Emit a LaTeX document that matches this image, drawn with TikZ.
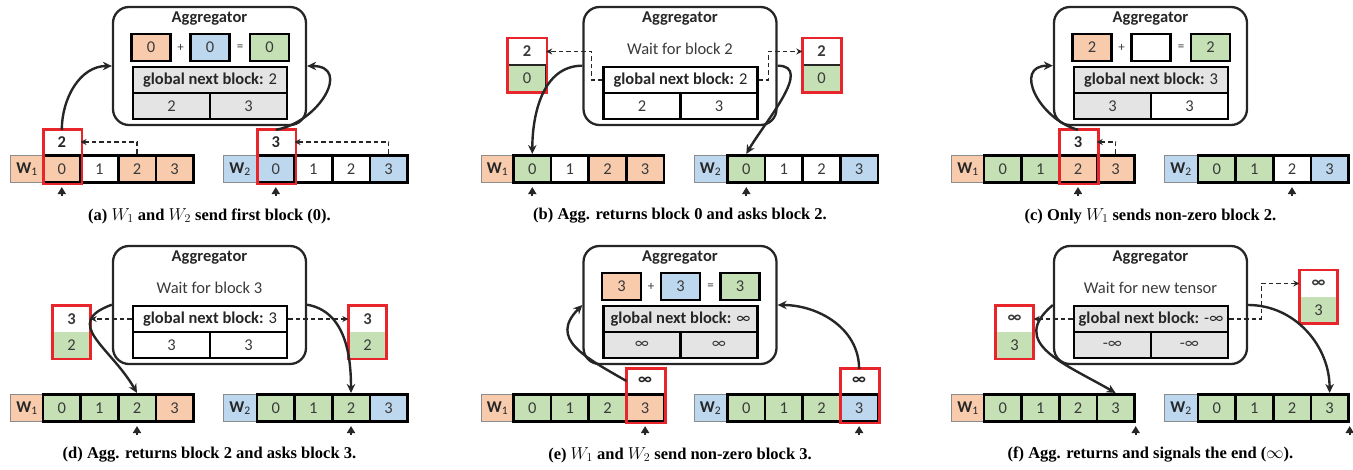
\documentclass[tikz,border=0pt]{standalone}
\usepackage{fontspec}
\setsansfont{Carlito}
\setmainfont{Liberation Serif}
\usepackage{xcolor}
\usepackage{tikz}
\usetikzlibrary{arrows.meta}
\definecolor{INK}{HTML}{262626}
\definecolor{TXT}{HTML}{3A3A3A}
\definecolor{ORG}{HTML}{F8CBAD}
\definecolor{BLU}{HTML}{BDD7EE}
\definecolor{GRN}{HTML}{C5E0B4}
\definecolor{GRY}{HTML}{E4E4E4}
\definecolor{HIL}{HTML}{E8252B}
\definecolor{FRM}{HTML}{8C8C8C}

\begin{document}
\begin{tikzpicture}[
  x=1pt, y=-1pt,
  font=\sffamily\fontsize{16.5}{19}\selectfont,
  cell/.style={draw=black, line width=2.6pt, text=TXT, minimum width=37.6pt, minimum height=27.5pt, inner sep=0pt},
  wlab/.style={draw=FRM, line width=0.8pt, minimum width=33pt, minimum height=27.5pt, inner sep=0pt, text=INK},
  nextnum/.style={fill=white, text=INK, font=\sffamily\bfseries\fontsize{16.5}{19}\selectfont, minimum width=37pt, minimum height=24pt, inner sep=0pt},
  half/.style={text=TXT, minimum width=38pt, minimum height=26.5pt, inner sep=0pt},
  hilite/.style={draw=HIL, line width=2.8pt},
  agg/.style={draw=INK, line width=2.3pt, rounded corners=16pt, minimum width=193pt, minimum height=118pt, inner sep=0pt},
  aggtitle/.style={font=\sffamily\bfseries\fontsize{16.5}{19}\selectfont, text=INK},
  waitmsg/.style={text=TXT},
  opnd/.style={draw=black, line width=2.3pt, minimum width=39pt, minimum height=27pt, inner sep=0pt, text=TXT},
  optext/.style={text=TXT, font=\sffamily\fontsize{13}{15}\selectfont},
  gnb/.style={draw=black, line width=2.6pt, minimum width=154pt, minimum height=26pt, inner sep=0pt, text=INK},
  gcell/.style={draw=black, line width=2.6pt, minimum width=77pt, minimum height=26pt, inner sep=0pt, text=TXT},
  conn/.style={draw=INK, line width=2.4pt, -{Stealth[length=9pt, width=8.5pt]}},
  ask/.style={draw=INK, line width=1.3pt, dash pattern=on 4.5pt off 3pt, -{Stealth[length=6pt, width=6pt]}},
  ptr/.style={draw=INK, line width=1.8pt, -{Triangle[length=7pt, width=8pt]}},
  subcap/.style={font=\rmfamily\bfseries\fontsize{16.5}{19}\selectfont, text=black},
]
\useasboundingbox (0,0) rectangle (1353,470);

% (a) both workers send block 0
\begin{scope}
\node[agg] (agA) at (209.5,66) {};
\node[aggtitle] (agAt) at (209.5,19) {Aggregator};
\node[opnd, fill=ORG] (agAo1) at (151,47.5) {0};
\node[optext] (agAp) at (180.5,47.5) {+};
\node[opnd, fill=BLU] (agAo2) at (210,47.5) {0};
\node[optext] (agAe) at (240,47.5) {=};
\node[opnd, fill=GRN] (agAo3) at (269.5,47.5) {0};
\node[gnb, fill=GRY] (tabA) at (210,80) {\textbf{global next block:} 2};
\node[gcell, fill=GRY] (tabAl) at (171.5,106) {2};
\node[gcell, fill=GRY] (tabAr) at (248.5,106) {3};

\node[wlab, fill=ORG] (wA1) at (27,169) {\textbf{W}\textsubscript{1}};
\foreach \c [count=\i from 0] in {ORG,white,ORG,ORG}
  \node[cell, fill=\c] (wA1c\i) at (61.8+37.6*\i,169) {\i};
\node[wlab, fill=BLU] (wA2) at (240,169) {\textbf{W}\textsubscript{2}};
\foreach \c [count=\i from 0] in {BLU,white,white,BLU}
  \node[cell, fill=\c] (wA2c\i) at (275.8+37.6*\i,169) {\i};

\node[nextnum] (nxA1) at (61.8,142) {2};
\draw[hilite] (nxA1.north west) rectangle (wA1c0.south east);
\node[nextnum] (nxA2) at (275.8,142) {3};
\draw[hilite] (nxA2.north west) rectangle (wA2c0.south east);

\draw[ask] (wA1c2.north) |- (nxA1.east);
\draw[ask] (wA2c3.north) |- (nxA2.east);
\draw[conn] (nxA1.north) to[out=90, in=180] (agA.west);
\draw[conn] (nxA2.north) to[out=10, in=0, looseness=1.6] (agA.east);
\draw[ptr] ([yshift=-12pt]wA1c0.south) -- ([yshift=-3pt]wA1c0.south);
\draw[ptr] ([yshift=-12pt]wA2c0.south) -- ([yshift=-3pt]wA2c0.south);

\node[subcap] (capA) at (209.5,216) {(a) $W_1$ and $W_2$ send first block (0).};
\end{scope}

% (b) aggregator returns block 0, asks block 2
\begin{scope}[shift={(470.5,0)}]
\node[agg] (agB) at (209.5,66) {};
\node[aggtitle] (agBt) at (209.5,19) {Aggregator};
\node[waitmsg] (agBw) at (209.5,49) {Wait for block 2};
\node[gnb, fill=white] (tabB) at (210,80) {\textbf{global next block:} 2};
\node[gcell, fill=white] (tabBl) at (171.5,106) {2};
\node[gcell, fill=white] (tabBr) at (248.5,106) {3};

\node[wlab, fill=ORG] (wB1) at (27,169) {\textbf{W}\textsubscript{1}};
\foreach \c [count=\i from 0] in {GRN,white,ORG,ORG}
  \node[cell, fill=\c] (wB1c\i) at (61.8+37.6*\i,169) {\i};
\node[wlab, fill=BLU] (wB2) at (240,169) {\textbf{W}\textsubscript{2}};
\foreach \c [count=\i from 0] in {GRN,white,white,BLU}
  \node[cell, fill=\c] (wB2c\i) at (275.8+37.6*\i,169) {\i};

\node[half, fill=white, font=\sffamily\bfseries\fontsize{16.5}{19}\selectfont] (rqB1) at (56.5,51.5) {2};
\node[half, fill=GRN, draw=INK, line width=1.8pt] (rsB1) at (56.5,78.5) {0};
\draw[hilite] (rqB1.north west) rectangle (rsB1.south east);
\node[half, fill=white, font=\sffamily\bfseries\fontsize{16.5}{19}\selectfont] (rqB2) at (351,51.5) {2};
\node[half, fill=GRN, draw=INK, line width=1.8pt] (rsB2) at (351,78.5) {0};
\draw[hilite] (rqB2.north west) rectangle (rsB2.south east);

\draw[ask] (tabB.west) -- ++(-11,0) |- (rqB1.east);
\draw[ask] (tabB.east) -- ++(10,0) |- (rqB2.west);
\draw[conn] (agB.west |- tabB.north) to[out=180, in=90] (wB1c0.north);
\draw[conn] (agB.east |- tabB.north) to[out=0, in=60] (wB2c0.north);
\draw[ptr] ([yshift=-12pt]wB1c0.south) -- ([yshift=-3pt]wB1c0.south);
\draw[ptr] ([yshift=-12pt]wB2c0.south) -- ([yshift=-3pt]wB2c0.south);

\node[subcap] (capB) at (209.5,216) {(b) Agg. returns block 0 and asks block 2.};
\end{scope}

% (c) only W1 has a non-zero block 2
\begin{scope}[shift={(941,0)}]
\node[agg] (agC) at (209.5,66) {};
\node[aggtitle] (agCt) at (209.5,19) {Aggregator};
\node[opnd, fill=ORG] (agCo1) at (151,47.5) {2};
\node[optext] (agCp) at (180.5,47.5) {+};
\node[opnd, fill=white] (agCo2) at (210,47.5) {};
\node[optext] (agCe) at (240,47.5) {=};
\node[opnd, fill=GRN] (agCo3) at (269.5,47.5) {2};
\node[gnb, fill=GRY] (tabC) at (210,80) {\textbf{global next block:} 3};
\node[gcell, fill=GRY] (tabCl) at (171.5,106) {3};
\node[gcell, fill=white] (tabCr) at (248.5,106) {3};

\node[wlab, fill=ORG] (wC1) at (27,169) {\textbf{W}\textsubscript{1}};
\foreach \c [count=\i from 0] in {GRN,GRN,ORG,ORG}
  \node[cell, fill=\c] (wC1c\i) at (61.8+37.6*\i,169) {\i};
\node[wlab, fill=BLU] (wC2) at (240,169) {\textbf{W}\textsubscript{2}};
\foreach \c [count=\i from 0] in {GRN,GRN,white,BLU}
  \node[cell, fill=\c] (wC2c\i) at (275.8+37.6*\i,169) {\i};

\node[nextnum] (nxC1) at (137,142) {3};
\draw[hilite] (nxC1.north west) rectangle (wC1c2.south east);

\draw[ask] (wC1c3.north) |- (nxC1.east);
\draw[conn] (nxC1.north) to[out=165, in=180, looseness=1.5] (agC.west |- tabC.north);
\draw[ptr] ([yshift=-12pt]wC1c2.south) -- ([yshift=-3pt]wC1c2.south);
\draw[ptr] ([yshift=-12pt]wC2c2.south) -- ([yshift=-3pt]wC2c2.south);

\node[subcap] (capC) at (209.5,216) {(c) Only $W_1$ sends non-zero block 2.};
\end{scope}

% (d) aggregator returns block 2, asks block 3
\begin{scope}[shift={(0,239)}]
\node[agg] (agD) at (209.5,66) {};
\node[aggtitle] (agDt) at (209.5,19) {Aggregator};
\node[waitmsg] (agDw) at (209.5,49) {Wait for block 3};
\node[gnb, fill=white] (tabD) at (210,80) {\textbf{global next block:} 3};
\node[gcell, fill=white] (tabDl) at (171.5,106) {3};
\node[gcell, fill=white] (tabDr) at (248.5,106) {3};

\node[wlab, fill=ORG] (wD1) at (27,169) {\textbf{W}\textsubscript{1}};
\foreach \c [count=\i from 0] in {GRN,GRN,GRN,ORG}
  \node[cell, fill=\c] (wD1c\i) at (61.8+37.6*\i,169) {\i};
\node[wlab, fill=BLU] (wD2) at (240,169) {\textbf{W}\textsubscript{2}};
\foreach \c [count=\i from 0] in {GRN,GRN,GRN,BLU}
  \node[cell, fill=\c] (wD2c\i) at (275.8+37.6*\i,169) {\i};

\node[half, fill=white, font=\sffamily\bfseries\fontsize{16.5}{19}\selectfont] (rqD1) at (71.5,80) {3};
\node[half, fill=GRN] (rsD1) at (71.5,106.5) {2};
\draw[hilite] (rqD1.north west) rectangle (rsD1.south east);
\node[half, fill=white, font=\sffamily\bfseries\fontsize{16.5}{19}\selectfont] (rqD2) at (367.5,80) {3};
\node[half, fill=GRN] (rsD2) at (367.5,106.5) {2};
\draw[hilite] (rqD2.north west) rectangle (rsD2.south east);

\draw[ask] (tabD.west) -- (rqD1.east);
\draw[ask] (tabD.east) -- (rqD2.west);
\draw[conn] (agD.west |- tabD.north) to[out=200, in=120, looseness=1.5] (wD1c2.north);
\draw[conn] (agD.east |- tabD.north) to[out=-10, in=90] (wD2c2.north);
\draw[ptr] ([yshift=-12pt]wD1c2.south) -- ([yshift=-3pt]wD1c2.south);
\draw[ptr] ([yshift=-12pt]wD2c2.south) -- ([yshift=-3pt]wD2c2.south);

\node[subcap] (capD) at (209.5,216) {(d) Agg. returns block 2 and asks block 3.};
\end{scope}

% (e) both workers send block 3
\begin{scope}[shift={(470.5,239)}]
\node[agg] (agE) at (209.5,66) {};
\node[aggtitle] (agEt) at (209.5,19) {Aggregator};
\node[opnd, fill=ORG] (agEo1) at (151,47.5) {3};
\node[optext] (agEp) at (180.5,47.5) {+};
\node[opnd, fill=BLU] (agEo2) at (210,47.5) {3};
\node[optext] (agEe) at (240,47.5) {=};
\node[opnd, fill=GRN] (agEo3) at (269.5,47.5) {3};
\node[gnb, fill=GRY] (tabE) at (210,80) {\textbf{global next block:} ∞};
\node[gcell, fill=GRY] (tabEl) at (171.5,106) {∞};
\node[gcell, fill=GRY] (tabEr) at (248.5,106) {∞};

\node[wlab, fill=ORG] (wE1) at (27,169) {\textbf{W}\textsubscript{1}};
\foreach \c [count=\i from 0] in {GRN,GRN,GRN,ORG}
  \node[cell, fill=\c] (wE1c\i) at (61.8+37.6*\i,169) {\i};
\node[wlab, fill=BLU] (wE2) at (240,169) {\textbf{W}\textsubscript{2}};
\foreach \c [count=\i from 0] in {GRN,GRN,GRN,BLU}
  \node[cell, fill=\c] (wE2c\i) at (275.8+37.6*\i,169) {\i};

\node[nextnum] (nxE1) at (174.6,142) {∞};
\draw[hilite] (nxE1.north west) rectangle (wE1c3.south east);
\node[nextnum] (nxE2) at (388.6,142) {∞};
\draw[hilite] (nxE2.north west) rectangle (wE2c3.south east);

\draw[conn] (nxE1.west) to[out=150, in=225, looseness=1.4] (agE.west);
\draw[conn] (nxE2.north) to[out=90, in=0] (agE.east);
\draw[ptr] ([yshift=-12pt]wE1c3.south) -- ([yshift=-3pt]wE1c3.south);
\draw[ptr] ([yshift=-12pt]wE2c3.south) -- ([yshift=-3pt]wE2c3.south);

\node[subcap] (capE) at (209.5,216) {(e) $W_1$ and $W_2$ send non-zero block 3.};
\end{scope}

% (f) aggregator returns block 3 and signals the end
\begin{scope}[shift={(941,239)}]
\node[agg] (agF) at (209.5,66) {};
\node[aggtitle] (agFt) at (209.5,19) {Aggregator};
\node[waitmsg] (agFw) at (209.5,49) {Wait for new tensor};
\node[gnb, fill=GRY] (tabF) at (210,80) {\textbf{global next block:} -∞};
\node[gcell, fill=GRY] (tabFl) at (171.5,106) {-∞};
\node[gcell, fill=GRY] (tabFr) at (248.5,106) {-∞};

\node[wlab, fill=ORG] (wF1) at (27,169) {\textbf{W}\textsubscript{1}};
\foreach \c [count=\i from 0] in {GRN,GRN,GRN,GRN}
  \node[cell, fill=\c] (wF1c\i) at (61.8+37.6*\i,169) {\i};
\node[wlab, fill=BLU] (wF2) at (240,169) {\textbf{W}\textsubscript{2}};
\foreach \c [count=\i from 0] in {GRN,GRN,GRN,GRN}
  \node[cell, fill=\c] (wF2c\i) at (275.8+37.6*\i,169) {\i};

\node[half, fill=white, font=\sffamily\bfseries\fontsize{16.5}{19}\selectfont] (rqF1) at (73.5,80) {∞};
\node[half, fill=GRN] (rsF1) at (73.5,106.5) {3};
\draw[hilite] (rqF1.north west) rectangle (rsF1.south east);
\node[half, fill=white, font=\sffamily\bfseries\fontsize{16.5}{19}\selectfont] (rqF2) at (377.5,44.5) {∞};
\node[half, fill=GRN] (rsF2) at (377.5,71) {3};
\draw[hilite] (rqF2.north west) rectangle (rsF2.south east);

\draw[ask] (tabF.west) -- (rqF1.east);
\draw[ask] (tabF.east) -- ++(32,0) |- (rqF2.west);
\draw[conn] (agF.west) to[out=220, in=150, looseness=1.4] (wF1c3.north);
\draw[conn] (agF.east) to[out=0, in=90] (wF2c3.north);
\draw[ptr] ([yshift=-12pt]wF1c3.south east) -- ([yshift=-3pt]wF1c3.south east);
\draw[ptr] ([yshift=-12pt]wF2c3.south east) -- ([yshift=-3pt]wF2c3.south east);

\node[subcap] (capF) at (209.5,216) {(f) Agg. returns and signals the end ($\infty$).};
\end{scope}

\end{tikzpicture}
\end{document}
